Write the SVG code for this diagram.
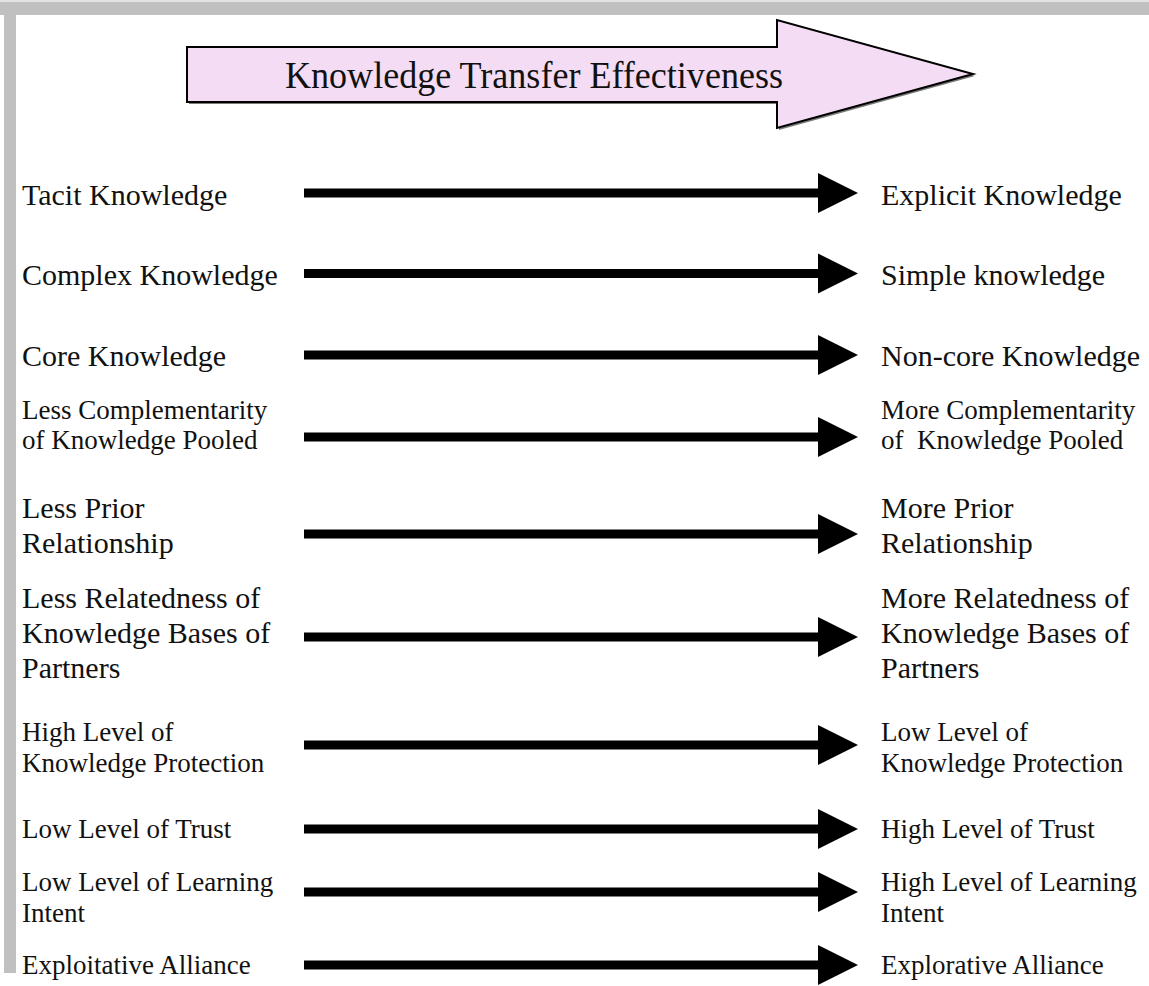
<svg xmlns="http://www.w3.org/2000/svg" width="1149" height="986" viewBox="0 0 1149 986">
<defs>
<style>
.bg{fill:#ffffff}
.frame{fill:#c0c0c0}
.t{font-family:"Liberation Serif","Times New Roman",serif;fill:#111111}
.lg{font-size:30px}
.sm{font-size:27px}
.title{font-size:38px}
.shaft{fill:#000000}
.head{fill:#000000}
</style>
</defs>
<rect class="bg" x="0" y="0" width="1149" height="986"/>
<g id="frame">
<rect x="0" y="0" width="1149" height="2" fill="#e2e2e2"/>
<rect class="frame" x="0" y="2" width="1149" height="13"/>
<rect class="frame" x="4" y="2" width="12" height="971"/>
</g>
<g id="header">
<path d="M189,49 L779,49 L779,22 L975,76 L779,130 L779,104 L189,104 Z" fill="#7a7a7a"/>
<path d="M187,47 L777,47 L777,20 L973,74 L777,128 L777,102 L187,102 Z" fill="#f4dcf4" stroke="#000" stroke-width="2" stroke-linejoin="miter"/>
<text class="t title" x="285" y="88" textLength="498" lengthAdjust="spacingAndGlyphs">Knowledge Transfer Effectiveness</text>
</g>
<g id="connectors">
<rect class="shaft" x="304" y="188.5" width="515" height="9"/><polygon class="head" points="818,173 858,193 818,213"/>
<rect class="shaft" x="304" y="269" width="515" height="9"/><polygon class="head" points="818,253.5 858,273.5 818,293.5"/>
<rect class="shaft" x="304" y="350.5" width="515" height="9"/><polygon class="head" points="818,335 858,355 818,375"/>
<rect class="shaft" x="304" y="432.5" width="515" height="9"/><polygon class="head" points="818,417 858,437 818,457"/>
<rect class="shaft" x="304" y="529.5" width="515" height="9"/><polygon class="head" points="818,514 858,534 818,554"/>
<rect class="shaft" x="304" y="632.5" width="515" height="9"/><polygon class="head" points="818,617 858,637 818,657"/>
<rect class="shaft" x="304" y="740.5" width="515" height="9"/><polygon class="head" points="818,725 858,745 818,765"/>
<rect class="shaft" x="304" y="824.5" width="515" height="9"/><polygon class="head" points="818,809 858,829 818,849"/>
<rect class="shaft" x="304" y="887.5" width="515" height="9"/><polygon class="head" points="818,872 858,892 818,912"/>
<rect class="shaft" x="304" y="960.5" width="515" height="9"/><polygon class="head" points="818,945 858,965 818,985"/>
</g>
<g id="left-1"><text class="t lg" x="22" y="205">Tacit Knowledge</text></g>
<g id="right-1"><text class="t lg" x="881" y="205">Explicit Knowledge</text></g>
<g id="left-2"><text class="t lg" x="22" y="285">Complex Knowledge</text></g>
<g id="right-2"><text class="t lg" x="881" y="285">Simple knowledge</text></g>
<g id="left-3"><text class="t lg" x="22" y="366">Core Knowledge</text></g>
<g id="right-3"><text class="t lg" x="881" y="366">Non-core Knowledge</text></g>
<g id="left-4"><text class="t sm" x="22" y="419">Less Complementarity</text><text class="t sm" x="22" y="449">of Knowledge Pooled</text></g>
<g id="right-4"><text class="t sm" x="881" y="419">More Complementarity</text><text class="t sm" x="881" y="449" xml:space="preserve">of  Knowledge Pooled</text></g>
<g id="left-5"><text class="t lg" x="22" y="518">Less Prior</text><text class="t lg" x="22" y="553">Relationship</text></g>
<g id="right-5"><text class="t lg" x="881" y="518">More Prior</text><text class="t lg" x="881" y="553">Relationship</text></g>
<g id="left-6"><text class="t lg" x="22" y="608">Less Relatedness of</text><text class="t lg" x="22" y="643">Knowledge Bases of</text><text class="t lg" x="22" y="678">Partners</text></g>
<g id="right-6"><text class="t lg" x="881" y="608">More Relatedness of</text><text class="t lg" x="881" y="643">Knowledge Bases of</text><text class="t lg" x="881" y="678">Partners</text></g>
<g id="left-7"><text class="t sm" x="22" y="741">High Level of</text><text class="t sm" x="22" y="772">Knowledge Protection</text></g>
<g id="right-7"><text class="t sm" x="881" y="741">Low Level of</text><text class="t sm" x="881" y="772">Knowledge Protection</text></g>
<g id="left-8"><text class="t sm" x="22" y="838">Low Level of Trust</text></g>
<g id="right-8"><text class="t sm" x="881" y="838">High Level of Trust</text></g>
<g id="left-9"><text class="t sm" x="22" y="891">Low Level of Learning</text><text class="t sm" x="22" y="922">Intent</text></g>
<g id="right-9"><text class="t sm" x="881" y="891">High Level of Learning</text><text class="t sm" x="881" y="922">Intent</text></g>
<g id="left-10"><text class="t sm" x="22" y="974">Exploitative Alliance</text></g>
<g id="right-10"><text class="t sm" x="881" y="974">Explorative Alliance</text></g>
</svg>
